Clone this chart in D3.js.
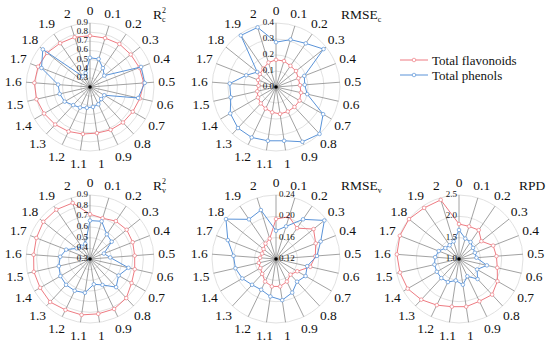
<!DOCTYPE html>
<html>
<head>
<meta charset="utf-8">
<script src="https://cdn.jsdelivr.net/npm/d3@7"></script>
<style>
  body { margin: 0; background: #fff; }
  svg text { fill: #111; }
</style>
</head>
<body>
<svg id="chart" width="550" height="346"></svg>
<script>
// spoke categories (clockwise from top)
var cats = ["0", "0.1", "0.2", "0.3", "0.4", "0.5", "0.6", "0.7", "0.8", "0.9", "1",
            "1.1", "1.2", "1.3", "1.4", "1.5", "1.6", "1.7", "1.8", "1.9", "2"];

// R2 calibration
var r2cFlav = [0.76, 0.76, 0.77, 0.77, 0.78, 0.79, 0.76, 0.74, 0.73, 0.72, 0.71,
               0.72, 0.74, 0.76, 0.78, 0.80, 0.81, 0.81, 0.80, 0.78, 0.77];
var r2cPhen = [0.52, 0.52, 0.45, 0.40, 0.80, 0.80, 0.74, 0.38, 0.38, 0.41, 0.42,
               0.43, 0.45, 0.47, 0.52, 0.54, 0.55, 0.77, 0.86, 0.34, 0.36];
// RMSE calibration
var rmsecFlav = [0.17, 0.17, 0.16, 0.16, 0.15, 0.15, 0.16, 0.17, 0.17, 0.17, 0.17,
                 0.16, 0.15, 0.14, 0.13, 0.12, 0.11, 0.12, 0.13, 0.14, 0.16];
var rmsecPhen = [0.28, 0.31, 0.33, 0.38, 0.19, 0.18, 0.20, 0.34, 0.40, 0.38, 0.34,
                 0.34, 0.35, 0.35, 0.33, 0.29, 0.29, 0.20, 0.15, 0.39, 0.39];
// R2 validation
var r2vFlav = [0.72, 0.70, 0.73, 0.74, 0.73, 0.72, 0.73, 0.75, 0.80, 0.82, 0.82,
               0.83, 0.83, 0.85, 0.84, 0.84, 0.83, 0.84, 0.86, 0.86, 0.85];
var r2vPhen = [0.66, 0.67, 0.58, 0.56, 0.44, 0.49, 0.67, 0.61, 0.66, 0.57, 0.54,
               0.62, 0.63, 0.63, 0.62, 0.60, 0.58, 0.54, 0.46, 0.44, 0.45];
// RMSE validation
var rmsevFlav = [0.195, 0.203, 0.190, 0.210, 0.200, 0.194, 0.186, 0.166, 0.160, 0.167, 0.172,
                 0.172, 0.167, 0.158, 0.154, 0.153, 0.150, 0.148, 0.150, 0.155, 0.160];
var rmsevPhen = [0.173, 0.184, 0.210, 0.236, 0.210, 0.197, 0.180, 0.184, 0.178, 0.190, 0.198,
                 0.191, 0.184, 0.186, 0.193, 0.198, 0.200, 0.217, 0.240, 0.210, 0.216];
// RPD
var rpdFlav = [1.82, 1.80, 1.82, 1.67, 1.86, 1.88, 1.92, 2.04, 2.14, 2.10, 2.13,
               2.13, 2.20, 2.30, 2.39, 2.42, 2.46, 2.49, 2.50, 2.45, 2.45];
var rpdPhen = [1.68, 1.50, 1.48, 1.42, 1.40, 1.41, 1.67, 1.49, 1.64, 1.45, 1.61,
               1.51, 1.60, 1.61, 1.60, 1.59, 1.56, 1.51, 1.41, 1.39, 1.43];

// radial ticks
var r2cTicks = ["0.3", "0.4", "0.5", "0.6", "0.7", "0.8", "0.9"];
var rmsecTicks = ["0.0", "0.1", "0.2", "0.3", "0.4"];
var r2vTicks = ["0.3", "0.4", "0.5", "0.6", "0.7", "0.8", "0.9"];
var rmsevTicks = ["0.12", "0.16", "0.20", "0.24"];
var rpdTicks = ["1.0", "1.5", "2.0", "2.5"];

var seriesNames = ["Total flavonoids", "Total phenols"];
var colors = ["#ee7b82", "#5a93d8"];
var serif = "Times New Roman, Times, Liberation Serif, DejaVu Serif, serif";

var svg = d3.select("#chart");
var R = 64;

var angle = d3.scaleBand().domain(cats).range([0, 2 * Math.PI]).paddingInner(0).paddingOuter(0);

var panels = [
  { t: "R", sup: "2", sub: "c", cx: 90, cy: 87, dom: [0.2, 0.9], ticks: r2cTicks, s: [r2cFlav, r2cPhen], tx: 153, ty: 19, side: "left" },
  { t: "RMSE", sup: "", sub: "c", cx: 276, cy: 87, dom: [0, 0.4], ticks: rmsecTicks, s: [rmsecFlav, rmsecPhen], tx: 341, ty: 19, side: "left" },
  { t: "R", sup: "2", sub: "v", cx: 90, cy: 259, dom: [0.3, 0.9], ticks: r2vTicks, s: [r2vFlav, r2vPhen], tx: 153, ty: 190, side: "left" },
  { t: "RMSE", sup: "", sub: "v", cx: 276, cy: 259, dom: [0.12, 0.24], ticks: rmsevTicks, s: [rmsevFlav, rmsevPhen], tx: 341, ty: 190, side: "right" },
  { t: "RPD", sup: "", sub: "", cx: 459, cy: 259, dom: [1.0, 2.5], ticks: rpdTicks, s: [rpdFlav, rpdPhen], tx: 519, ty: 190, side: "left" }
];

panels.forEach(function (p) {
  var g = svg.append("g").attr("transform", "translate(" + p.cx + "," + p.cy + ")");
  var r = d3.scaleLinear().domain(p.dom).range([0, R]);

  // grid circles
  g.selectAll("circle.grid").data(p.ticks.map(Number).filter(function (v) { return v > p.dom[0]; }))
    .enter().append("circle")
    .attr("class", "grid")
    .attr("r", function (d) { return r(d); })
    .attr("fill", "none")
    .attr("stroke", "#d9d9d9")
    .attr("stroke-width", 0.8);

  // spokes
  g.selectAll("line.spoke").data(cats).enter().append("line")
    .attr("x1", 0).attr("y1", 0)
    .attr("x2", function (c) { return R * Math.sin(angle(c)); })
    .attr("y2", function (c) { return -R * Math.cos(angle(c)); })
    .attr("stroke", "#8a8a8a")
    .attr("stroke-width", 0.8);

  // spoke labels
  g.selectAll("text.cat").data(cats).enter().append("text")
    .attr("x", function (c) { return 77 * Math.sin(angle(c)); })
    .attr("y", function (c) { return -77 * Math.cos(angle(c)); })
    .attr("text-anchor", "middle")
    .attr("dominant-baseline", "central")
    .attr("font-family", serif)
    .attr("font-size", 13.5)
    .text(function (c) { return c; });

  // series
  p.s.forEach(function (vals, k) {
    var line = d3.lineRadial()
      .angle(function (d, i) { return angle(cats[i]); })
      .radius(function (d) { return r(d); })
      .curve(d3.curveLinearClosed);
    g.append("path")
      .attr("d", line(vals))
      .attr("fill", "none")
      .attr("stroke", colors[k])
      .attr("stroke-width", 1);
    g.selectAll("circle.m" + k).data(vals).enter().append("circle")
      .attr("cx", function (d, i) { return r(d) * Math.sin(angle(cats[i])); })
      .attr("cy", function (d, i) { return -r(d) * Math.cos(angle(cats[i])); })
      .attr("r", 1.8)
      .attr("fill", "#fff")
      .attr("stroke", colors[k])
      .attr("stroke-width", 0.7);
  });

  // centre
  g.append("circle").attr("r", 1.8).attr("fill", "#000");

  // radial tick labels
  g.selectAll("text.tick").data(p.ticks).enter().append("text")
    .attr("x", p.side === "left" ? -2 : 3)
    .attr("y", function (d) { return -r(+d) - 1; })
    .attr("text-anchor", p.side === "left" ? "end" : "start")
    .attr("dominant-baseline", "central")
    .attr("font-family", serif)
    .attr("font-size", 9)
    .text(function (d) { return d; });

  // title
  var title = svg.append("text").attr("x", p.tx).attr("y", p.ty)
    .attr("font-family", serif).attr("font-size", 13.5);
  title.append("tspan").text(p.t);
  if (p.sup) title.append("tspan").attr("dy", -6).attr("font-size", 8).text(p.sup);
  if (p.sub) title.append("tspan").attr("dx", p.sup ? -4 : 0).attr("dy", p.sup ? 9 : 3).attr("font-size", 8).text(p.sub);
});

// legend
var legend = svg.append("g").attr("transform", "translate(400,60)");
seriesNames.forEach(function (name, k) {
  var lg = legend.append("g").attr("transform", "translate(0," + (k * 15) + ")");
  lg.append("line").attr("x1", 0).attr("x2", 28).attr("y1", 0).attr("y2", 0)
    .attr("stroke", colors[k]).attr("stroke-width", 1);
  lg.append("circle").attr("cx", 14).attr("cy", 0).attr("r", 1.8)
    .attr("fill", "#fff").attr("stroke", colors[k]).attr("stroke-width", 0.7);
  lg.append("text").attr("x", 32).attr("y", 0).attr("dominant-baseline", "central")
    .attr("font-family", serif)
    .attr("font-size", 13).text(name);
});
</script>
</body>
</html>
